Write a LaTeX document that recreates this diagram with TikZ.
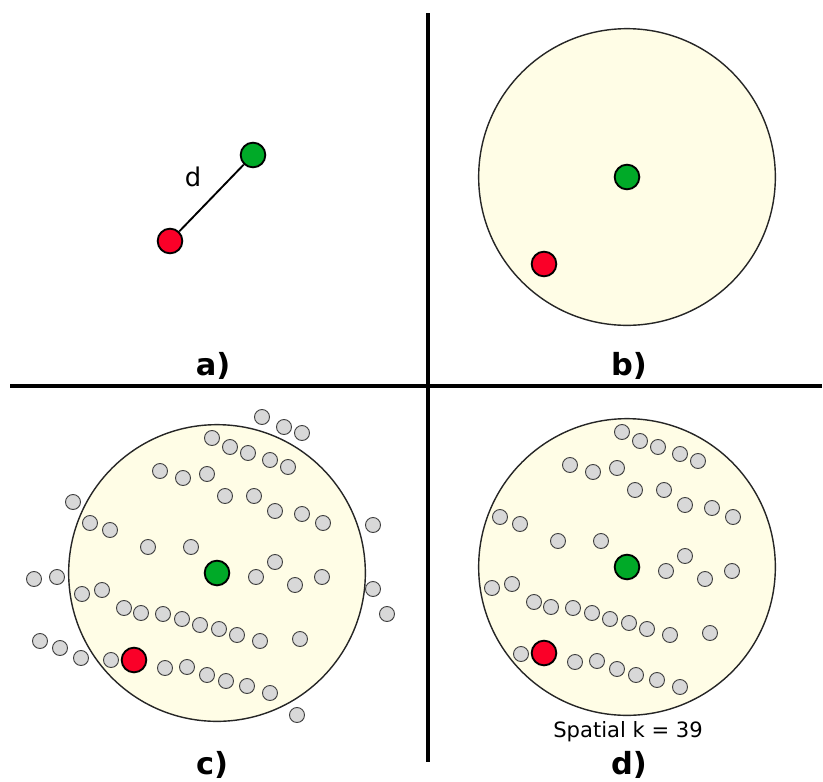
\documentclass[tikz,border=0pt]{standalone}
\usepackage{fontspec}
\setmainfont{DejaVu Sans}
\usetikzlibrary{positioning}

\definecolor{cream}{RGB}{255,253,230}
\definecolor{ptgreen}{RGB}{0,170,40}
\definecolor{ptred}{RGB}{250,0,40}
\definecolor{nbgrey}{RGB}{216,216,216}

% neighbours inside the range, relative to the centre point
\def\innerpts{-5/-135, 13/-126, 31/-120, 53/-113, 71/-106,
  -57/-102, -34/-95, -10/-99, 8/-77, 37/-77,
  58/-62, 85/-59, 106/-50, -127/-50, -107/-43,
  -69/-26, -26/-26, 58/-11, 39/4, 78/12, 105/4,
  -135/21, -115/17, -93/35, -76/40, -54/41, -35/46,
  -17/52, 2/56, 20/62, 43/68, 83/66,
  -106/87, -52/95, -30/94, -10/102, 9/108, 30/113, 53/120}
% neighbours outside the range
\def\outerpts{45/-156, 67/-146, 85/-140, -144/-71, 156/-48,
  -183/6, -160/4, 156/16, 170/41, -177/68, -157/75, -136/85, 80/142}

\begin{document}
\begin{tikzpicture}[
  x=0.03cm, y=-0.03cm,
  area/.style={circle, draw=black!85, line width=1.2pt, fill=cream, minimum size=8.9cm, inner sep=0pt},
  centre/.style={circle, draw=black, line width=1.6pt, fill=ptgreen, minimum size=0.74cm, inner sep=0pt},
  query/.style={circle, draw=black, line width=1.6pt, fill=ptred, minimum size=0.74cm, inner sep=0pt},
  nbr/.style={circle, draw=black!75, line width=0.8pt, fill=nbgrey, minimum size=0.45cm, inner sep=0pt},
  divider/.style={line width=3pt},
  link/.style={line width=1.6pt},
  panel/.style={font=\fontsize{26}{30}\selectfont\bfseries, inner sep=0pt}
]
\useasboundingbox (0,0) rectangle (823,781);

% dividers
\coordinate (vtop) at (428,13);
\coordinate (vbot) at (428,762);
\coordinate (hleft) at (10,386);
\coordinate (hright) at (822,386);
\draw[divider] (vtop) -- (vbot);
\draw[divider] (hleft) -- (hright);

% panel a
\node[centre] (ga) at (253,155) {};
\node[query] (ra) at (170,241) {};
\draw[link] (ra) -- (ga);
\node[font=\fontsize{22}{26}\selectfont] (dist) at (193,177) {d};
\node[panel] (la) at (213,366) {a)};

% panel b
\node[area] (rangeb) at (627,177) {};
\node[centre] (gb) at (627,177) {};
\node[query] (rb) at (544,264) {};
\node[panel] (lb) at (629,366) {b)};

% panel c
\begin{scope}[shift={(217,573)}]
  \node[area] (rangec) at (0,0) {};
  \foreach \dx/\dy [count=\i] in \innerpts
    \node[nbr] (cin\i) at (\dx,\dy) {};
  \foreach \dx/\dy [count=\i] in \outerpts
    \node[nbr] (cout\i) at (\dx,\dy) {};
  \node[centre] (gc) at (0,0) {};
  \node[query] (rc) at (-83,87) {};
\end{scope}
\node[panel] (lc) at (212,765) {c)};

% panel d
\begin{scope}[shift={(627,567)}]
  \node[area] (ranged) at (0,0) {};
  \foreach \dx/\dy [count=\i] in \innerpts
    \node[nbr] (din\i) at (\dx,\dy) {};
  \node[centre] (gd) at (0,0) {};
  \node[query] (rd) at (-83,86) {};
\end{scope}
\node[font=\fontsize{18}{21}\selectfont] (kval) at (628,732) {Spatial k = 39};
\node[panel] (ld) at (629,765) {d)};

\end{tikzpicture}
\end{document}
